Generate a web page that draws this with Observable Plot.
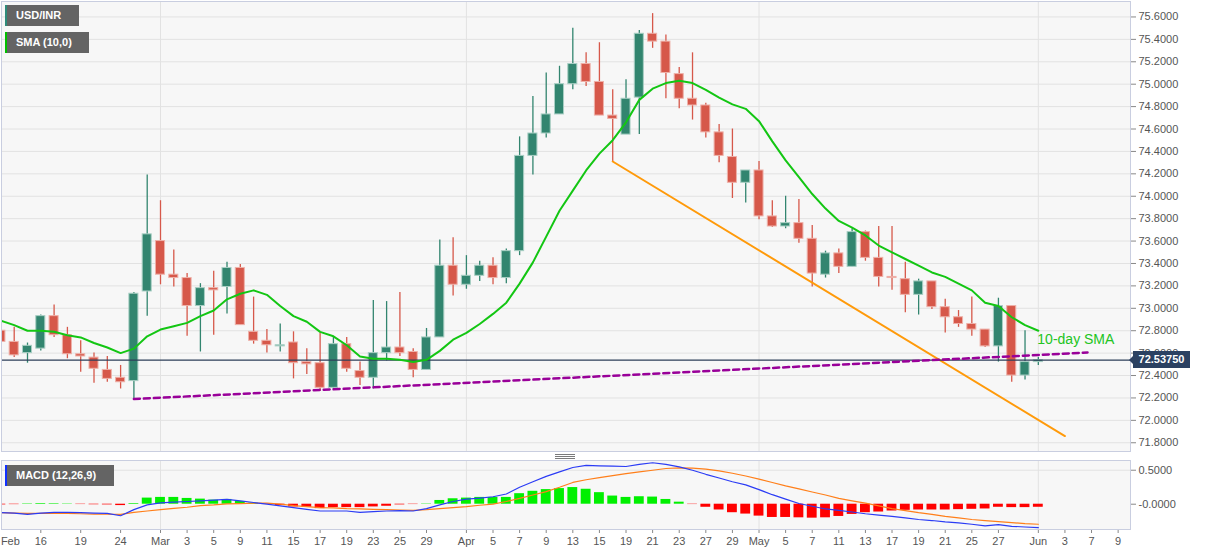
<!DOCTYPE html>
<html><head><meta charset="utf-8">
<script src="https://cdn.jsdelivr.net/npm/d3@7"></script>
<script src="https://cdn.jsdelivr.net/npm/@observablehq/plot@0.6"></script>
<style>
body{margin:0;background:#fff;}
#wrap{position:relative;width:1207px;height:555px;overflow:hidden;font-family:"Liberation Sans",Arial,sans-serif;}
#wrap svg{position:absolute;left:0;overflow:hidden;}
.tag{position:absolute;left:5px;height:21px;background:#646464;color:#fff;font-weight:bold;font-size:11px;line-height:21px;padding-left:9px;box-sizing:border-box;border-left:2px solid #2e8b7a;white-space:nowrap;}
.pricebox{position:absolute;left:1133px;width:57px;height:17px;background:#2b4162;color:#fff;font-weight:bold;font-size:11px;line-height:17px;text-align:center;}
.pointer{position:absolute;left:1129px;width:0;height:0;border-top:4px solid transparent;border-bottom:4px solid transparent;border-right:4px solid #2b4162;}
.handle{position:absolute;left:555px;width:20px;height:1px;background:#7a7a7a;}
</style></head>
<body><div id="wrap"></div>
<script>
// ---------- data ----------
const dates = ["2021-02-11","2021-02-12","2021-02-15","2021-02-16","2021-02-17","2021-02-18","2021-02-19","2021-02-22","2021-02-23","2021-02-24",
"2021-02-25","2021-02-26","2021-03-01","2021-03-02","2021-03-03","2021-03-04","2021-03-05","2021-03-08","2021-03-09","2021-03-10",
"2021-03-11","2021-03-12","2021-03-15","2021-03-16","2021-03-17","2021-03-18","2021-03-19","2021-03-22","2021-03-23","2021-03-24",
"2021-03-25","2021-03-26","2021-03-29","2021-03-30","2021-03-31","2021-04-01","2021-04-02","2021-04-05","2021-04-06","2021-04-07",
"2021-04-08","2021-04-09","2021-04-12","2021-04-13","2021-04-14","2021-04-15","2021-04-16","2021-04-19","2021-04-20","2021-04-21",
"2021-04-22","2021-04-23","2021-04-26","2021-04-27","2021-04-28","2021-04-29","2021-04-30","2021-05-03","2021-05-04","2021-05-05",
"2021-05-06","2021-05-07","2021-05-10","2021-05-11","2021-05-12","2021-05-13","2021-05-14","2021-05-17","2021-05-18","2021-05-19",
"2021-05-20","2021-05-21","2021-05-24","2021-05-25","2021-05-26","2021-05-27","2021-05-28","2021-05-31","2021-06-01"];

const open = [72.80,72.70,72.60,72.64,72.93,72.76,72.59,72.56,72.45,72.38,
 72.35,73.15,73.60,73.30,73.27,73.02,73.18,73.19,73.36,72.79,
 72.71,72.66,72.695,72.52,72.51,72.29,72.68,72.44,72.38,72.60,
 72.65,72.61,72.45,72.74,73.38,73.21,73.29,73.38,73.27,73.51,
 74.36,74.56,74.73,75.00,75.18,75.02,74.72,74.55,74.88,75.45,
 75.38,75.09,74.87,74.81,74.57,74.35,74.12,74.23,73.82,73.73,
 73.76,73.62,73.30,73.49,73.37,73.68,73.45,73.28,73.26,73.12,
 73.24,73.01,72.92,72.86,72.81,72.66,73.02,72.40,72.52];
const high = [72.85,72.83,72.69,72.94,73.03,72.83,72.71,72.60,72.57,72.49,
 73.14,74.19,73.96,73.52,73.31,73.22,73.33,73.41,73.39,73.10,
 72.81,72.86,72.79,72.64,72.78,72.74,72.74,72.52,73.07,73.06,
 73.14,72.64,72.82,73.61,73.63,73.47,73.42,73.45,73.53,74.53,
 74.89,75.10,75.16,75.50,75.28,75.37,74.95,75.04,75.48,75.63,
 75.44,75.15,75.28,74.83,74.64,74.60,74.23,74.31,73.96,74.00,
 73.97,73.74,73.51,73.53,73.71,73.69,73.73,73.73,73.41,73.26,
 73.24,73.08,72.98,73.10,72.81,73.09,73.02,72.80,72.56];
const low = [72.62,72.56,72.51,72.62,72.74,72.55,72.43,72.33,72.34,72.28,
 72.18,72.93,73.21,73.19,72.75,72.61,72.76,72.95,72.85,72.68,
 72.60,72.61,72.37,72.41,72.26,72.27,72.43,72.31,72.28,72.53,
 72.57,72.38,72.45,72.74,73.11,73.17,73.24,73.21,73.22,73.47,
 74.19,74.52,74.73,74.95,74.98,74.72,74.31,74.55,74.55,75.32,
 74.87,74.78,74.68,74.52,74.30,73.98,73.94,73.79,73.72,73.71,
 73.58,73.19,73.27,73.31,73.37,73.42,73.19,73.16,72.96,72.94,
 72.99,72.78,72.83,72.75,72.65,72.52,72.34,72.36,72.49];
const close = [72.70,72.58,72.665,72.93,72.76,72.59,72.57,72.46,72.37,72.34,
 73.13,73.66,73.30,73.27,73.02,73.18,73.16,73.36,72.85,72.71,
 72.67,72.67,72.51,72.50,72.29,72.68,72.46,72.38,72.60,72.65,
 72.60,72.45,72.74,73.38,73.21,73.29,73.38,73.27,73.51,74.36,
 74.56,74.73,75.00,75.18,75.02,74.72,74.69,74.87,75.45,75.38,
 75.10,74.87,74.81,74.57,74.36,74.12,74.23,73.82,73.73,73.76,
 73.62,73.31,73.49,73.37,73.68,73.45,73.28,73.27,73.12,73.24,
 73.01,72.92,72.86,72.81,72.66,73.02,72.40,72.52,72.5375];
const sma10 = [72.89,72.85,72.80,72.80,72.79,72.76,72.74,72.69,72.65,72.60,
 72.64,72.75,72.81,72.84,72.87,72.93,72.98,73.08,73.13,73.16,
 73.12,73.02,72.93,72.88,72.79,72.75,72.67,72.57,72.55,72.55,
 72.54,72.52,72.54,72.62,72.72,72.78,72.86,72.95,73.05,73.22,
 73.41,73.64,73.87,74.05,74.23,74.38,74.50,74.66,74.86,74.96,
 75.01,75.03,75.01,74.95,74.88,74.82,74.78,74.67,74.49,74.32,
 74.17,74.02,73.89,73.78,73.72,73.65,73.56,73.50,73.44,73.38,
 73.32,73.28,73.22,73.16,73.05,73.02,72.92,72.85,72.80];
const macdLine = [-0.125,-0.13,-0.15,-0.13,-0.12,-0.12,-0.125,-0.13,-0.135,-0.17,
 -0.08,-0.01,0.02,0.03,0.04,0.05,0.06,0.07,0.05,0.025,
 0.0,-0.025,-0.05,-0.075,-0.10,-0.10,-0.10,-0.12,-0.11,-0.10,
 -0.095,-0.10,-0.065,-0.01,0.04,0.075,0.09,0.11,0.15,0.25,
 0.33,0.41,0.475,0.54,0.57,0.565,0.56,0.555,0.585,0.61,
 0.585,0.55,0.50,0.44,0.385,0.33,0.285,0.215,0.14,0.075,
 0.01,-0.03,-0.07,-0.09,-0.115,-0.14,-0.16,-0.18,-0.20,-0.225,
 -0.24,-0.26,-0.275,-0.295,-0.32,-0.30,-0.325,-0.335,-0.345];
const signalLine = [-0.125,-0.13,-0.135,-0.135,-0.135,-0.135,-0.14,-0.145,-0.148,-0.15,
 -0.12,-0.10,-0.08,-0.06,-0.045,-0.02,-0.01,0.005,0.01,0.015,
 0.015,0.0,-0.02,-0.035,-0.05,-0.055,-0.065,-0.07,-0.075,-0.08,
 -0.085,-0.09,-0.08,-0.065,-0.05,-0.035,-0.015,0.0,0.04,0.085,
 0.135,0.185,0.25,0.32,0.36,0.39,0.42,0.45,0.475,0.50,
 0.525,0.535,0.53,0.515,0.49,0.455,0.415,0.37,0.32,0.27,
 0.225,0.18,0.135,0.085,0.05,0.015,-0.025,-0.065,-0.095,-0.125,
 -0.15,-0.18,-0.20,-0.225,-0.24,-0.255,-0.27,-0.285,-0.295];
const histogram = [-0.01,-0.006,0.006,0.01,0.008,0.005,-0.005,-0.008,-0.01,-0.02,
 0.01,0.09,0.10,0.10,0.085,0.075,0.06,0.07,0.04,0.015,
 -0.005,-0.02,-0.04,-0.045,-0.065,-0.05,-0.05,-0.05,-0.04,-0.03,
 -0.01,-0.005,0.005,0.055,0.08,0.09,0.10,0.10,0.10,0.155,
 0.19,0.215,0.23,0.245,0.22,0.17,0.12,0.10,0.11,0.105,
 0.07,0.03,-0.005,-0.045,-0.085,-0.125,-0.145,-0.175,-0.195,-0.195,
 -0.20,-0.205,-0.20,-0.18,-0.15,-0.125,-0.115,-0.10,-0.09,-0.085,
 -0.085,-0.085,-0.08,-0.075,-0.07,-0.045,-0.05,-0.05,-0.045];

const priceTicks = [71.8,72.0,72.2,72.4,72.6,72.8,73.0,73.2,73.4,73.6,73.8,74.0,74.2,74.4,74.6,74.8,75.0,75.2,75.4,75.6];
const macdTicks = [0.5, 0];
const macdTickLabels = ["0.5000","-0.0000"];
const dateTickIndex = [3,6,9,12,14,16,18,20,22,24,26,28,30,32,35,37,39,41,43,45,47,49,51,53,55,57,59,61,63,65,67,69,71,73,75,78,80,82,84];
const dateTickLabels = ["16","19","24","Mar","3","5","9","11","15","17","19","23","25","29","Apr","5","7","9","13","15","19","21","23","27","29","May","5","7","11","13","17","19","21","25","27","Jun","3","7","9"];
const firstMonthLabel = "Feb";
const monthStartIndex = [12,35,57,78];
const supportIdx = [10, 81.7];
const supportPrice = [72.19, 72.605];
const resistIdx = [46, 80];
const resistPrice = [74.31, 71.86];
const lastPrice = 72.5375;
const smaLabel = "10-day SMA";

// ---------- build ----------
const GREEN = "#32856f", RED = "#d6584a";
const rows = dates.map((d, i) => ({i, o: open[i], h: high[i], l: low[i], c: close[i], up: close[i] >= open[i]}));
const smaRows = sma10.map((v, i) => ({i, v}));
const macdRows = macdLine.map((v, i) => ({i, m: v, s: signalLine[i], h: histogram[i]}));
const supportRows = supportIdx.map((x, k) => ({i: x, v: supportPrice[k]}));
const resistRows = resistIdx.map((x, k) => ({i: x, v: resistPrice[k]}));
const xDomain = [0.045, 84.93];
const font = '"Liberation Sans", Arial, sans-serif';

const main = Plot.plot({
  width: 1207, height: 455,
  marginLeft: 1, marginRight: 77, marginTop: 1, marginBottom: 4,
  x: {domain: xDomain, axis: null, label: null},
  y: {domain: [71.722, 75.738], axis: null, label: null},
  style: {background: "transparent", color: "#555", fontFamily: font, fontSize: "11px"},
  marks: [
    Plot.frame({fill: "#f7f7f7", stroke: null}),
    Plot.ruleY(priceTicks, {stroke: "#e2e2e2", strokeWidth: 1}),
    Plot.ruleX(monthStartIndex, {stroke: "#e2e2e2", strokeWidth: 1}),
    Plot.axisY(priceTicks, {anchor: "right", tickFormat: d => d.toFixed(4), tickSize: 5, tickPadding: 3, label: null, stroke: "#888"}),
    Plot.ruleX(rows, {x: "i", y1: "l", y2: "h", stroke: d => d.up ? GREEN : RED, strokeWidth: 1.3, clip: true}),
    Plot.rect(rows, {x1: d => d.i - 0.34, x2: d => d.i + 0.34, y1: "o", y2: "c",
      fill: d => d.up ? GREEN : RED, stroke: d => d.up ? "#a9cfc4" : "#eeb1a9", strokeWidth: 1, clip: true}),
    Plot.line(resistRows, {x: "i", y: "v", stroke: "#ff9a0a", strokeWidth: 2, clip: true}),
    Plot.ruleY([lastPrice], {stroke: "#2c3e58", strokeWidth: 1.2}),
    Plot.line(supportRows, {x: "i", y: "v", stroke: "#990099", strokeWidth: 2.5, strokeDasharray: "6,4", clip: true}),
    Plot.line(smaRows, {x: "i", y: "v", stroke: "#13c613", strokeWidth: 2, clip: true}),
    Plot.text([smaRows[smaRows.length - 1]], {x: "i", y: "v", text: () => smaLabel, textAnchor: "start", dx: -1, dy: 9, fill: "#22c422", fontSize: 14}),
    Plot.frame({stroke: "#c9cee0"})
  ]
});

const labelOf = new Map(dateTickIndex.map((d, k) => [d, dateTickLabels[k]]));
const macdLabelOf = new Map(macdTicks.map((d, k) => [d, macdTickLabels[k]]));

const macd = Plot.plot({
  width: 1207, height: 100,
  marginLeft: 1, marginRight: 77, marginTop: 5, marginBottom: 26,
  x: {domain: xDomain, axis: null, label: null},
  y: {domain: [-0.372, 0.643], axis: null, label: null},
  style: {background: "transparent", color: "#555", fontFamily: font, fontSize: "11px"},
  marks: [
    Plot.frame({fill: "#f7f7f7", stroke: null}),
    Plot.ruleY([0.5], {stroke: "#e2e2e2"}),
    Plot.ruleX(monthStartIndex, {stroke: "#e2e2e2"}),
    Plot.rect(macdRows, {x1: d => d.i - 0.37, x2: d => d.i + 0.37, y1: 0, y2: "h", fill: d => d.h >= 0 ? "#00f000" : "#ff0000", clip: true}),
    Plot.line(macdRows, {x: "i", y: "s", stroke: "#ff7f1a", strokeWidth: 1.2, clip: true}),
    Plot.line(macdRows, {x: "i", y: "m", stroke: "#2b3cf5", strokeWidth: 1.2, clip: true}),
    Plot.axisY(macdTicks, {anchor: "right", tickFormat: d => macdLabelOf.get(d), tickSize: 5, tickPadding: 3, label: null, stroke: "#888"}),
    Plot.axisX(dateTickIndex, {anchor: "bottom", tickFormat: d => labelOf.get(d), tickSize: 4, tickPadding: 4, label: null, stroke: "#888"}),
    Plot.axisX([0], {anchor: "bottom", tickFormat: () => firstMonthLabel, tickSize: 0, tickPadding: 8, textAnchor: "start", label: null}),
    Plot.frame({stroke: "#c9cee0"})
  ]
});

const wrap = document.getElementById("wrap");
main.style.top = "0px";
macd.style.top = "455px";
wrap.appendChild(main);
wrap.appendChild(macd);

function tag(text, top, width, stripe) {
  const d = document.createElement("div");
  d.className = "tag"; d.textContent = text;
  d.style.top = top + "px"; d.style.width = width + "px"; d.style.borderLeftColor = stripe;
  wrap.appendChild(d);
}
tag("USD/INR", 5, 74, "#2e8b7a");
tag("SMA (10,0)", 32, 84, "#00c000");
tag("MACD (12,26,9)", 465, 109, "#1030ff");

const py = main.scale("y").apply(lastPrice);
const box = document.createElement("div");
box.className = "pricebox"; box.textContent = lastPrice.toFixed(5);
box.style.top = (py - 8.5) + "px";
wrap.appendChild(box);
const ptr = document.createElement("div");
ptr.className = "pointer"; ptr.style.top = (py - 4) + "px";
wrap.appendChild(ptr);

[454, 456, 458].forEach(t => { const h = document.createElement("div"); h.className = "handle"; h.style.top = t + "px"; wrap.appendChild(h); });
</script>
</body></html>
